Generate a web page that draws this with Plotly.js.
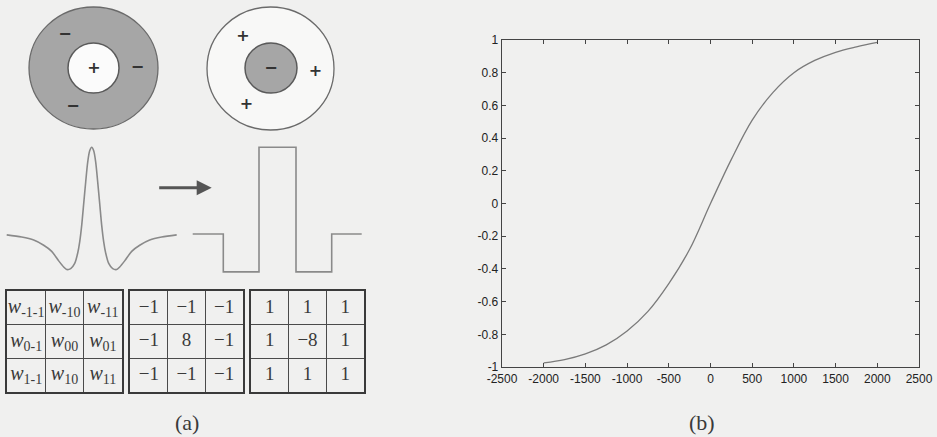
<!DOCTYPE html>
<html>
<head>
<meta charset="utf-8">
<script src="https://cdn.plot.ly/plotly-3.0.1.min.js"></script>
<style>html,body{margin:0;padding:0;background:#f0f0ef;}#chart{width:937px;height:437px;}</style>
</head>
<body>
<div id="chart"></div>
<script>
// ---- panel (b): sigmoid curve ----
const sigX = [-2000,-1750,-1500,-1250,-1000,-750,-500,-250,0,250,500,750,1000,1250,1500,1750,2000];
const sigY = [-0.975,-0.955,-0.92,-0.865,-0.78,-0.66,-0.49,-0.28,0.0,0.27,0.51,0.68,0.80,0.875,0.925,0.958,0.985];
const xTickVals = [-2500,-2000,-1500,-1000,-500,0,500,1000,1500,2000,2500];
const xTickText = ['-2500','-2000','-1500','-1000','-500','0','500','1000','1500','2000','2500'];
const yTickVals = [-1,-0.8,-0.6,-0.4,-0.2,0,0.2,0.4,0.6,0.8,1];
const yTickText = ['-1','-0.8','-0.6','-0.4','-0.2','0','0.2','0.4','0.6','0.8','1'];

// ---- panel (a): receptive field profile (Mexican hat) ----
const hatX = [-85,-70,-58,-48,-40,-33,-28,-25,-21,-17,-14,-12,-10,-8,-6,-4,-2,0,2,4,6,8,10,12,14,17,21,25,28,33,40,48,58,70,85];
const hatY = [-0.01,-0.035,-0.07,-0.13,-0.2,-0.31,-0.38,-0.41,-0.40,-0.34,-0.22,-0.09,0.1,0.35,0.6,0.83,0.96,1.0,0.96,0.83,0.6,0.35,0.1,-0.09,-0.22,-0.34,-0.40,-0.41,-0.38,-0.31,-0.2,-0.13,-0.07,-0.035,-0.01];

// ---- panel (a): discrete approximation (step profile) ----
const stepX = [-84.8,-54.2,-18.5,18.5,54.2,84.2];
const stepY = [0,-0.437,1,-0.437,0,0];

// ---- panel (a): centre-surround rings ----
const ringLabels = ['on-centre','off-centre'];
const outerFill = ['#a6a6a6','#f8f8f7'];
const innerFill = ['#fbfbfb','#a6a6a6'];
const signX = [94,65,137.5,73,243,271,315.5,246.5];
const signY = [68.5,35,68,106.5,36.5,69,72,105];
const signText = ['+','\u2212','\u2212','\u2212','+','\u2212','+','+'];

// ---- panel (a): 3x3 masks ----
const cellCol = [0,1,2,0,1,2,0,1,2];
const cellRow = [0,0,0,1,1,1,2,2,2];
const maskSub = ['-1-1','-10','-11','0-1','00','01','1-1','10','11'];
const maskA = [-1,-1,-1,-1,8,-1,-1,-1,-1];
const maskB = [1,1,1,1,-8,1,1,1,1];
const fmt = v => (v < 0 ? '\u2212' + Math.abs(v) : String(v));

const W = 937, H = 437;
const px = p => p / W;
const py = p => 1 - p / H;

const traces = [
  {x: sigX, y: sigY, xaxis: 'x', yaxis: 'y', mode: 'lines', line: {color: '#7a7a7a', width: 1.3, shape: 'spline', smoothing: 1}, hoverinfo: 'skip'},
  {x: hatX, y: hatY, xaxis: 'x3', yaxis: 'y3', mode: 'lines', line: {color: '#8a8a8a', width: 1.6, shape: 'spline', smoothing: 0.8}, hoverinfo: 'skip', cliponaxis: false},
  {x: stepX, y: stepY, xaxis: 'x4', yaxis: 'y3', mode: 'lines', line: {color: '#8a8a8a', width: 1.6, shape: 'hv'}, hoverinfo: 'skip', cliponaxis: false},
  {x: signX, y: signY, xaxis: 'x2', yaxis: 'y2', mode: 'text', text: signText, textposition: 'middle center',
   textfont: {family: 'DejaVu Sans', size: 16, color: '#333', weight: 'bold'}, hoverinfo: 'skip', cliponaxis: false},
  {x: cellCol, y: cellRow, xaxis: 'x5', yaxis: 'y5', mode: 'text', text: maskSub.map(s => '<i>w</i><sub>' + s + '</sub>'), textposition: 'middle center',
   textfont: {family: 'Liberation Serif', size: 20, color: '#3a3a3a'}, hoverinfo: 'skip'},
  {x: cellCol, y: cellRow, xaxis: 'x6', yaxis: 'y6', mode: 'text', text: maskA.map(fmt), textposition: 'middle center',
   textfont: {family: 'Liberation Serif', size: 19, color: '#3a3a3a'}, hoverinfo: 'skip'},
  {x: cellCol, y: cellRow, xaxis: 'x7', yaxis: 'y7', mode: 'text', text: maskB.map(fmt), textposition: 'middle center',
   textfont: {family: 'Liberation Serif', size: 19, color: '#3a3a3a'}, hoverinfo: 'skip'}
];

const hidden = {visible: false, fixedrange: true};
const gridAxis = (dom, anchor, rev) => ({
  domain: dom, anchor: anchor, range: rev ? [2.5, -0.5] : [-0.5, 2.5],
  tickvals: [0.5, 1.5], showticklabels: false, ticks: '', showgrid: true, gridcolor: '#4a4a4a', gridwidth: 1.5,
  zeroline: false, showline: true, mirror: true, linecolor: '#3a3a3a', linewidth: 2
});
const tY = [py(392), py(291)];

const shapes = [];
const ringBoxes = [
  {o: [29, 158, 7, 129], i: [68, 119, 43, 93]},
  {o: [207, 334, 7, 130], i: [245, 297, 43, 93]}
];
ringLabels.forEach((_, k) => {
  const b = ringBoxes[k];
  shapes.push({type: 'circle', xref: 'x2', yref: 'y2', x0: b.o[0], x1: b.o[1], y0: b.o[2], y1: b.o[3],
    fillcolor: outerFill[k], line: {color: '#6a6a6a', width: 1.3}, layer: 'below'});
  shapes.push({type: 'circle', xref: 'x2', yref: 'y2', x0: b.i[0], x1: b.i[1], y0: b.i[2], y1: b.i[3],
    fillcolor: innerFill[k], line: {color: '#5a5a5a', width: 1.5}, layer: 'below'});
});

const tickFont = {family: 'Liberation Sans', size: 12, color: '#222'};
const layout = {
  width: W, height: H,
  margin: {l: 0, r: 0, t: 0, b: 0},
  paper_bgcolor: '#f0f0ef', plot_bgcolor: 'rgba(0,0,0,0)',
  showlegend: false,
  font: {family: 'Liberation Sans', color: '#333'},
  xaxis: {domain: [px(502), px(919)], anchor: 'y', range: [-2500, 2500], tickvals: xTickVals, ticktext: xTickText,
    ticks: 'inside', ticklen: 4, tickcolor: '#444', tickwidth: 1, showline: true, mirror: 'ticks', linecolor: '#444', linewidth: 1.3,
    showgrid: false, zeroline: false, tickfont: tickFont},
  yaxis: {domain: [py(367), py(40)], anchor: 'x', range: [-1, 1], tickvals: yTickVals, ticktext: yTickText,
    ticks: 'inside', ticklen: 4, tickcolor: '#444', tickwidth: 1, showline: true, mirror: 'ticks', linecolor: '#444', linewidth: 1.3,
    showgrid: false, zeroline: false, tickfont: tickFont},
  xaxis2: Object.assign({domain: [0, 0.5], anchor: 'y2', range: [0, 468.5]}, hidden),
  yaxis2: Object.assign({domain: [py(140), 1], anchor: 'x2', range: [140, 0]}, hidden),
  xaxis3: Object.assign({domain: [0, 0.5], anchor: 'y3', range: [-91.7, 376.8]}, hidden),
  xaxis4: Object.assign({domain: [0, 0.5], anchor: 'y3', range: [-277.5, 191]}, hidden),
  yaxis3: Object.assign({domain: [py(280), py(140)], anchor: 'x3', range: [-0.5306, 1.0842]}, hidden),
  xaxis5: gridAxis([px(7), px(122)], 'y5', false),
  yaxis5: gridAxis(tY, 'x5', true),
  xaxis6: gridAxis([px(130), px(243)], 'y6', false),
  yaxis6: gridAxis(tY, 'x6', true),
  xaxis7: gridAxis([px(251), px(364)], 'y7', false),
  yaxis7: gridAxis(tY, 'x7', true),
  shapes: shapes,
  annotations: [
    {xref: 'x4', yref: 'y3', x: -65.8, y: 0.534, ax: -54, ay: 0, showarrow: true, arrowhead: 2, arrowsize: 1, arrowwidth: 3, arrowcolor: '#555', text: ''},
    {xref: 'paper', yref: 'paper', x: px(187), y: py(422), xanchor: 'center', yanchor: 'middle', showarrow: false,
     text: '(a)', font: {family: 'Liberation Serif', size: 22, color: '#3a3a3a'}},
    {xref: 'paper', yref: 'paper', x: px(702), y: py(422), xanchor: 'center', yanchor: 'middle', showarrow: false,
     text: '(b)', font: {family: 'Liberation Serif', size: 22, color: '#3a3a3a'}}
  ]
};

Plotly.newPlot('chart', traces, layout, {staticPlot: true, displayModeBar: false});
</script>
</body>
</html>
